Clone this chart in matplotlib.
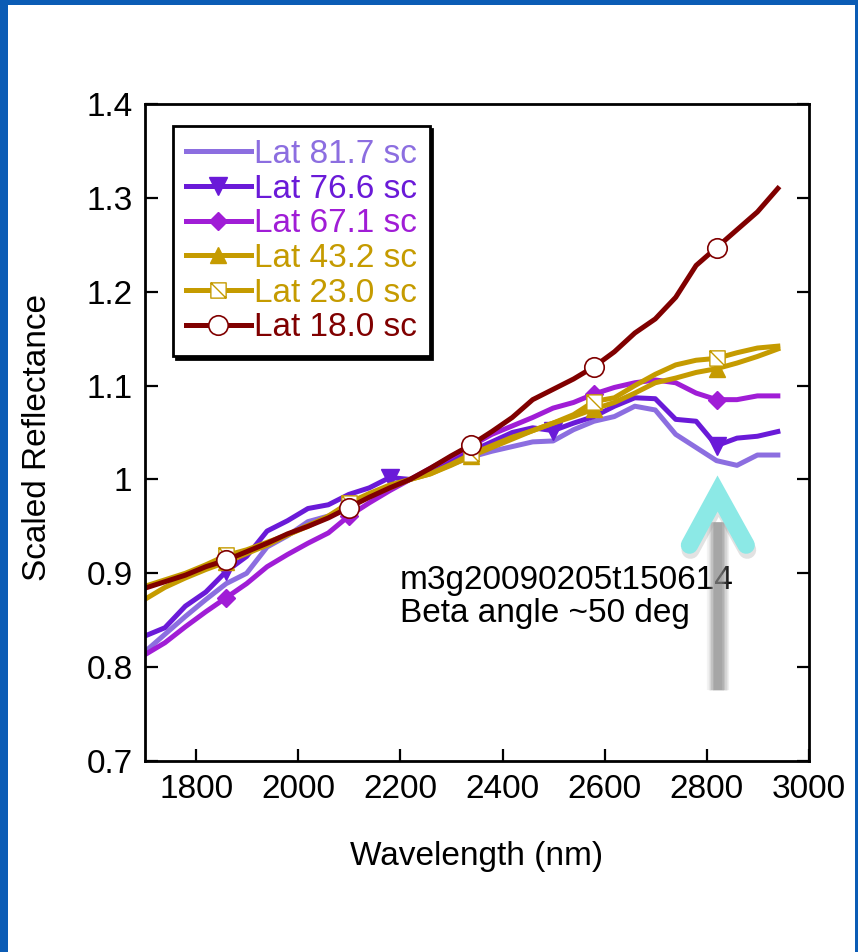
import matplotlib
matplotlib.use("Agg")
import matplotlib.pyplot as plt
from matplotlib.lines import Line2D
from matplotlib.patches import Rectangle
from matplotlib.path import Path
from matplotlib.ticker import FuncFormatter

# M3 global-mode channel centres (nm)
wavelength_nm = [
	1699, 1739, 1779, 1819, 1859, 1899, 1939, 1979, 2019, 2059, 2099,
	2139, 2179, 2219, 2259, 2299, 2339, 2379, 2419, 2459, 2499, 2539,
	2579, 2619, 2659, 2699, 2739, 2779, 2819, 2859, 2899, 2939,
]

# reflectance scaled to 1 at 2219 nm
lat_81_7 = [
	0.816, 0.835, 0.854, 0.872, 0.889, 0.900, 0.928, 0.940, 0.955, 0.961, 0.970,
	0.983, 0.993, 1.000, 1.008, 1.016, 1.024, 1.030, 1.035, 1.040, 1.041, 1.053,
	1.062, 1.067, 1.078, 1.074, 1.048, 1.034, 1.020, 1.015, 1.026, 1.026,
]
lat_76_6 = [
	0.833, 0.842, 0.865, 0.880, 0.902, 0.918, 0.945, 0.956, 0.969, 0.973, 0.984,
	0.991, 1.002, 1.000, 1.010, 1.020, 1.030, 1.040, 1.050, 1.055, 1.052, 1.060,
	1.067, 1.078, 1.087, 1.086, 1.064, 1.062, 1.036, 1.044, 1.046, 1.051,
]
lat_67_1 = [
	0.813, 0.826, 0.843, 0.859, 0.874, 0.889, 0.907, 0.920, 0.932, 0.943, 0.961,
	0.975, 0.988, 1.000, 1.012, 1.024, 1.036, 1.048, 1.057, 1.066, 1.076, 1.082,
	1.091, 1.098, 1.103, 1.106, 1.103, 1.092, 1.085, 1.085, 1.089, 1.089,
]
lat_43_2 = [
	0.872, 0.885, 0.895, 0.904, 0.912, 0.921, 0.930, 0.941, 0.951, 0.960, 0.972,
	0.982, 0.991, 1.000, 1.006, 1.015, 1.025, 1.034, 1.043, 1.052, 1.060, 1.067,
	1.075, 1.082, 1.092, 1.103, 1.108, 1.114, 1.118, 1.124, 1.131, 1.139,
]
lat_23_0 = [
	0.886, 0.893, 0.900, 0.909, 0.919, 0.925, 0.933, 0.941, 0.950, 0.961, 0.975,
	0.985, 0.994, 1.000, 1.006, 1.016, 1.027, 1.036, 1.045, 1.052, 1.060, 1.069,
	1.083, 1.087, 1.100, 1.112, 1.122, 1.127, 1.129, 1.135, 1.140, 1.142,
]
lat_18_0 = [
	0.884, 0.891, 0.898, 0.907, 0.914, 0.923, 0.932, 0.942, 0.950, 0.959, 0.970,
	0.981, 0.991, 1.000, 1.012, 1.025, 1.037, 1.051, 1.066, 1.085, 1.096, 1.107,
	1.120, 1.136, 1.156, 1.171, 1.194, 1.228, 1.247, 1.266, 1.285, 1.310,
]

series_labels = ["Lat 81.7 sc", "Lat 76.6 sc", "Lat 67.1 sc", "Lat 43.2 sc", "Lat 23.0 sc", "Lat 18.0 sc"]
x_ticks = [1800, 2000, 2200, 2400, 2600, 2800, 3000]
y_ticks = [0.7, 0.8, 0.9, 1.0, 1.1, 1.2, 1.3, 1.4]

observation_note = "m3g20090205t150614\nBeta angle ~50 deg"
arrow_wavelength = 2821


def square_slash_marker():
	"""Open square with a diagonal stroke, like the old KaleidaGraph symbol."""
	verts = [(-1, -1), (1, -1), (1, 1), (-1, 1), (-1, -1), (-1, 1), (1, -1)]
	codes = [Path.MOVETO, Path.LINETO, Path.LINETO, Path.LINETO, Path.CLOSEPOLY, Path.MOVETO, Path.LINETO]
	return Path(verts, codes)


def main():
	plt.rcParams["font.family"] = ["Liberation Sans", "DejaVu Sans"]
	fs = 24

	fig = plt.figure(figsize=(8.58, 9.52), dpi=100)
	fig.patch.set_facecolor("#0b5cb5")
	fig.add_artist(Rectangle(
		(8 / 858, 0), 847 / 858, 947 / 952,
		transform=fig.transFigure, facecolor="white", edgecolor="none", zorder=-1,
	))

	ax = fig.add_axes([145 / 858, 191 / 952, 664 / 858, 657 / 952])

	lavender = "#8c6ee0"
	violet = "#6a1ad8"
	magenta = "#a01dd6"
	gold = "#c59b00"
	maroon = "#800000"
	lw = 3.6

	styles = [
		dict(color=lavender, lw=lw),
		dict(color=violet, lw=lw, marker="v", ms=13, markevery=(4, 8)),
		dict(color=magenta, lw=lw, marker="D", ms=9, markevery=(4, 6)),
		dict(color=gold, lw=lw, marker="^", ms=11, markevery=(4, 6)),
		dict(color=gold, lw=lw, marker=square_slash_marker(), ms=11, mfc="white",
			mec=gold, mew=1.0, markevery=(4, 6)),
		dict(color=maroon, lw=lw, marker="o", ms=14, mfc="white", mec=maroon,
			mew=1.2, markevery=(4, 6)),
	]
	series = [lat_81_7, lat_76_6, lat_67_1, lat_43_2, lat_23_0, lat_18_0]

	handles = []
	for values, label, style in zip(series, series_labels, styles):
		ax.plot(wavelength_nm, values, solid_joinstyle="round", **style)
		proxy = {k: v for k, v in style.items() if k != "markevery"}
		handles.append(Line2D([], [], label=label, **proxy))

	# upward arrow marking the 2.8 micron dip: soft grey shaft, cyan chevron head
	shaft_x = [arrow_wavelength, arrow_wavelength]
	shaft_y = [0.776, 0.955]
	for width, alpha in [(16, 0.10), (14, 0.14), (12, 0.18), (10, 0.22), (8, 0.26), (6, 0.3)]:
		ax.plot(shaft_x, shaft_y, color="#8a8a8a", lw=width, alpha=alpha,
			solid_capstyle="butt", zorder=5)
	chevron_x = [2766, arrow_wavelength, 2877]
	chevron_y = [0.930, 0.985, 0.930]
	ax.plot([x + 2 for x in chevron_x], [y - 0.005 for y in chevron_y], color="#a0a0a0",
		lw=13, alpha=0.3, solid_capstyle="round", solid_joinstyle="miter", zorder=5)
	ax.plot(chevron_x, chevron_y, color="#8ce9e6", lw=12.5, solid_capstyle="round",
		solid_joinstyle="miter", zorder=6)

	ax.text(0.384, 0.298, observation_note, transform=ax.transAxes, ha="left", va="top",
		fontsize=fs, linespacing=1.08, color="black")

	ax.set_xlim(1700, 3000)
	ax.set_ylim(0.7, 1.4)
	ax.set_xticks(x_ticks)
	ax.set_yticks(y_ticks)
	ax.yaxis.set_major_formatter(FuncFormatter(lambda v, p: f"{v:g}"))
	ax.tick_params(direction="in", length=9, width=1.6, labelsize=fs, top=False, right=True)
	ax.tick_params(axis="y", pad=9)
	ax.tick_params(axis="x", pad=9)
	for spine in ax.spines.values():
		spine.set_linewidth(2.0)

	ax.set_xlabel("Wavelength (nm)", fontsize=fs)
	ax.xaxis.set_label_coords(0.5, -0.122)
	ax.set_ylabel("Scaled Reflectance", fontsize=fs)
	ax.yaxis.set_label_coords(-0.139, 0.493)

	leg = ax.legend(
		handles=handles, loc="upper left", bbox_to_anchor=(0.042, 0.966),
		borderaxespad=0, fontsize=fs, labelcolor="linecolor", handlelength=1.95,
		handletextpad=0.1, labelspacing=0.11, borderpad=0.38, fancybox=False,
		framealpha=1, edgecolor="black", shadow={"color": "black", "alpha": 1},
	)
	leg.get_frame().set_linewidth(2.0)

	fig.savefig("out.png", dpi=100, facecolor=fig.get_facecolor())
	plt.close(fig)


if __name__ == "__main__":
	main()
